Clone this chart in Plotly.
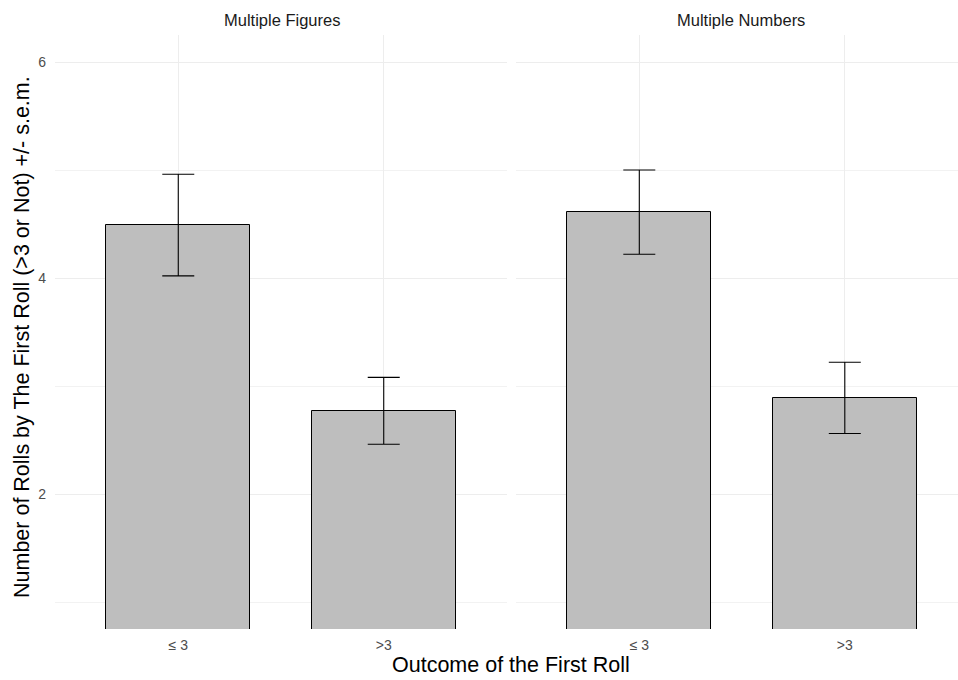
import plotly.graph_objects as go

categories = ["≤ 3", ">3"]
panels = ["Multiple Figures", "Multiple Numbers"]
means = {
    "Multiple Figures": [4.49, 2.77],
    "Multiple Numbers": [4.61, 2.89],
}
sems = {
    "Multiple Figures": [0.47, 0.31],
    "Multiple Numbers": [0.39, 0.33],
}
y_ticks = [2, 4, 6]

W, H = 958, 680
ml, mr, mt, mb = 55, 0, 35, 51
pw = W - ml - mr
FONT = "Liberation Sans"

fig = go.Figure()
xaxes = ["x", "x2"]
for i, p in enumerate(panels):
    fig.add_trace(go.Bar(
        x=[1, 2], y=means[p], width=0.7,
        marker=dict(color="#BEBEBE", line=dict(color="black", width=1)),
        error_y=dict(type="data", array=sems[p], color="black", thickness=1.1, width=16),
        xaxis=xaxes[i], yaxis="y", showlegend=False, hoverinfo="skip",
    ))

grid = "#EDEDED"
common_x = dict(tickvals=[1, 2], ticktext=categories, showgrid=True, gridcolor=grid, gridwidth=1,
                zeroline=False, showline=False, ticks="", ticklabelstandoff=6,
                tickfont=dict(family=FONT, size=14, color="#4D4D4D"))
fig.update_layout(
    width=W, height=H, margin=dict(l=ml, r=mr, t=mt, b=mb),
    plot_bgcolor="white", paper_bgcolor="white",
    bargap=0,
    xaxis=dict(domain=[0, (507 - ml) / pw], range=[0.4, 2.6], **common_x),
    xaxis2=dict(domain=[(516 - ml) / pw, 1], range=[0.4, 0.4 + (958 - 516) / 205.5], anchor="y", **common_x),
    yaxis=dict(range=[0.75, 6.25], tickvals=y_ticks, showgrid=True, gridcolor=grid, gridwidth=1,
               zeroline=False, showline=False, ticks="", ticklabelstandoff=8,
               minor=dict(tickvals=[1, 3, 5], showgrid=True, gridcolor="#F2F2F2", gridwidth=0.8),
               tickfont=dict(family=FONT, size=14, color="#4D4D4D")),
)

ann = []
for i, p in enumerate(panels):
    c = (179 + 384) / 2 if i == 0 else (639 + 843) / 2
    ann.append(dict(text=p, xref="paper", yref="paper", x=(c - ml) / pw, y=1, yshift=15,
                    xanchor="center", yanchor="middle", showarrow=False,
                    font=dict(family=FONT, size=16.5, color="#1A1A1A")))
ann.append(dict(text="Outcome of the First Roll", xref="paper", yref="paper", x=(511 - ml) / pw, y=0,
                yshift=-36, xanchor="center", yanchor="middle", showarrow=False,
                font=dict(family=FONT, size=21.5, color="black")))
ann.append(dict(text="Number of Rolls by The First Roll (>3 or Not) +/- s.e.m.", xref="paper", yref="paper",
                x=(22 - ml) / pw, y=(629 - 337) / 594, textangle=-90, xanchor="center", yanchor="middle",
                showarrow=False, font=dict(family=FONT, size=21.5, color="black")))
fig.update_layout(annotations=ann)

fig.write_html("out.html")
